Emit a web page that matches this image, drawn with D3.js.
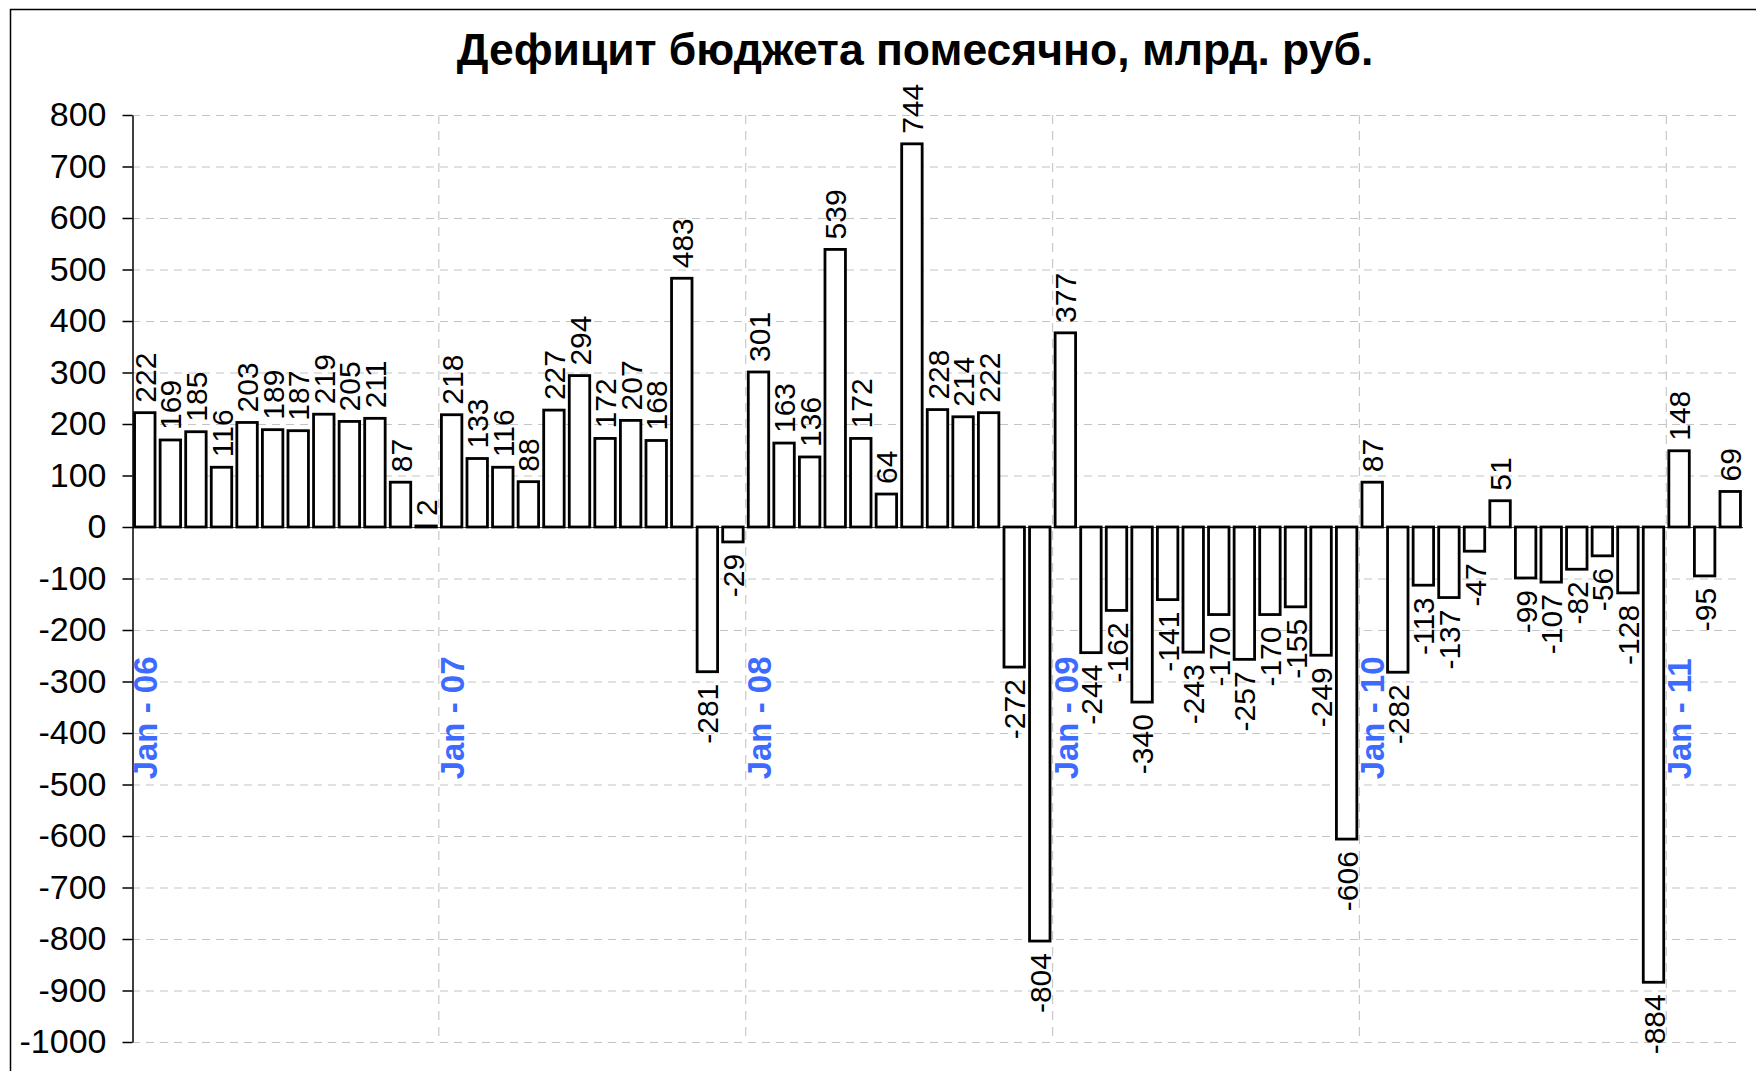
<!DOCTYPE html>
<html>
<head>
<meta charset="utf-8">
<script src="https://cdn.jsdelivr.net/npm/d3@7"></script>
<style>
  body { margin: 0; background: #fff; }
  svg { display: block; font-family: "Liberation Sans", Arial, sans-serif; }
</style>
</head>
<body>
<svg id="chart" width="1756" height="1071"></svg>
<script>
// monthly budget deficit, bln rub (Jan..Dec of each year)
var yearLabels = ['06', '07', '08', '09', '10', '11'];
var monthNames = ['Jan', 'Feb', 'Mar', 'Apr', 'May', 'Jun', 'Jul', 'Aug', 'Sep', 'Oct', 'Nov', 'Dec'];
var deficit2006 = [222, 169, 185, 116, 203, 189, 187, 219, 205, 211, 87, 2];
var deficit2007 = [218, 133, 116, 88, 227, 294, 172, 207, 168, 483, -281, -29];
var deficit2008 = [301, 163, 136, 539, 172, 64, 744, 228, 214, 222, -272, -804];
var deficit2009 = [377, -244, -162, -340, -141, -243, -170, -257, -170, -155, -249, -606];
var deficit2010 = [87, -282, -113, -137, -47, 51, -99, -107, -82, -56, -128, -884];
var deficit2011 = [148, -95, 69];
var yTicks = [800, 700, 600, 500, 400, 300, 200, 100, 0, -100, -200, -300, -400, -500, -600, -700, -800, -900, -1000];
var title = 'Дефицит бюджета помесячно, млрд. руб.';

var byYear = [deficit2006, deficit2007, deficit2008, deficit2009, deficit2010, deficit2011];
var data = [];
for (var i = 0; i < byYear.length; i++) {
    for (var j = 0; j < byYear[i].length; j++) {
        data.push({ key: monthNames[j] + ' - ' + yearLabels[i], month: j, value: byYear[i][j] });
    }
}

function drawChart() {
    var svg = d3.select('#chart');
    var left = 132, right = 1743, top = 115, bottom = 1042;

    // frame
    svg.append('rect')
        .attr('x', 10.5).attr('y', 9.5)
        .attr('width', 1800).attr('height', 1100)
        .attr('fill', 'none').attr('stroke', '#000').attr('stroke-width', 1.5);

    svg.append('text')
        .text(title)
        .attr('x', 915).attr('y', 65)
        .attr('text-anchor', 'middle')
        .attr('font-weight', 'bold')
        .attr('font-size', 44.5)
        .attr('fill', '#000');

    var x = d3.scaleBand()
        .domain(data.map(function (d) { return d.key; }))
        .range([left, right])
        .paddingInner(0.2)
        .paddingOuter(0.1);
    var y = d3.scaleLinear().domain([-1000, 800]).range([bottom, top]);
    var step = x.step();

    // horizontal grid
    svg.append('g').selectAll('line').data(yTicks.filter(function (t) { return t != 0; }))
        .join('line')
        .attr('x1', left).attr('x2', right - 4)
        .attr('y1', function (d) { return y(d) + 0.5; })
        .attr('y2', function (d) { return y(d) + 0.5; })
        .attr('stroke', '#c4c4c4').attr('stroke-width', 1.2)
        .attr('stroke-dasharray', '8,6');

    // vertical grid at year boundaries
    var jans = data.filter(function (d) { return d.month == 0; });
    svg.append('g').selectAll('line').data(jans.slice(1))
        .join('line')
        .attr('x1', function (d) { return x(d.key) - step * 0.1; })
        .attr('x2', function (d) { return x(d.key) - step * 0.1; })
        .attr('y1', top).attr('y2', bottom)
        .attr('stroke', '#c8c8c8').attr('stroke-width', 1.2)
        .attr('stroke-dasharray', '9,7');

    // zero line
    svg.append('line')
        .attr('x1', left).attr('x2', right)
        .attr('y1', y(0) + 0.5).attr('y2', y(0) + 0.5)
        .attr('stroke', '#444').attr('stroke-width', 1);

    // y axis
    var yAxis = svg.append('g')
        .attr('transform', 'translate(' + (left + 0.5) + ',0)')
        .call(d3.axisLeft(y).tickValues(yTicks).tickSize(10).tickPadding(16).tickSizeOuter(0)
            .tickFormat(function (d) { return String(d); }));
    yAxis.select('.domain').attr('stroke', '#000').attr('stroke-width', 1.5);
    yAxis.selectAll('.tick line').attr('stroke', '#000').attr('stroke-width', 1.5);
    yAxis.selectAll('.tick text')
        .attr('font-size', 34)
        .attr('font-family', '"Liberation Sans", Arial, sans-serif')
        .attr('fill', '#000');

    // bars
    svg.append('g').selectAll('rect').data(data)
        .join('rect')
        .attr('x', function (d) { return x(d.key); })
        .attr('y', function (d) { return y(Math.max(0, d.value)); })
        .attr('width', x.bandwidth())
        .attr('height', function (d) { return Math.abs(y(d.value) - y(0)); })
        .attr('fill', '#fff')
        .attr('stroke', '#000')
        .attr('stroke-width', 2.8);

    // value labels
    svg.append('g').selectAll('text').data(data)
        .join('text')
        .text(function (d) { return d.value; })
        .attr('font-size', 30)
        .attr('fill', '#000')
        .attr('text-anchor', function (d) { return d.value >= 0 ? 'start' : 'end'; })
        .attr('transform', function (d) {
            var cx = x(d.key) + x.bandwidth() / 2 + 11;
            var cy = d.value >= 0 ? y(d.value) - 10 : y(d.value) + 12;
            return 'translate(' + cx + ',' + cy + ') rotate(-90)';
        });

    // year labels
    svg.append('g').selectAll('text').data(jans)
        .join('text')
        .text(function (d) { return d.key; })
        .attr('font-size', 33)
        .attr('font-weight', 'bold')
        .attr('fill', '#3d6bff')
        .attr('text-anchor', 'start')
        .attr('transform', function (d) {
            var gx = x(d.key) - step * 0.1 + 25;
            return 'translate(' + gx + ',' + y(-490) + ') rotate(-90)';
        });
}

window.onload = drawChart;
</script>
</body>
</html>
